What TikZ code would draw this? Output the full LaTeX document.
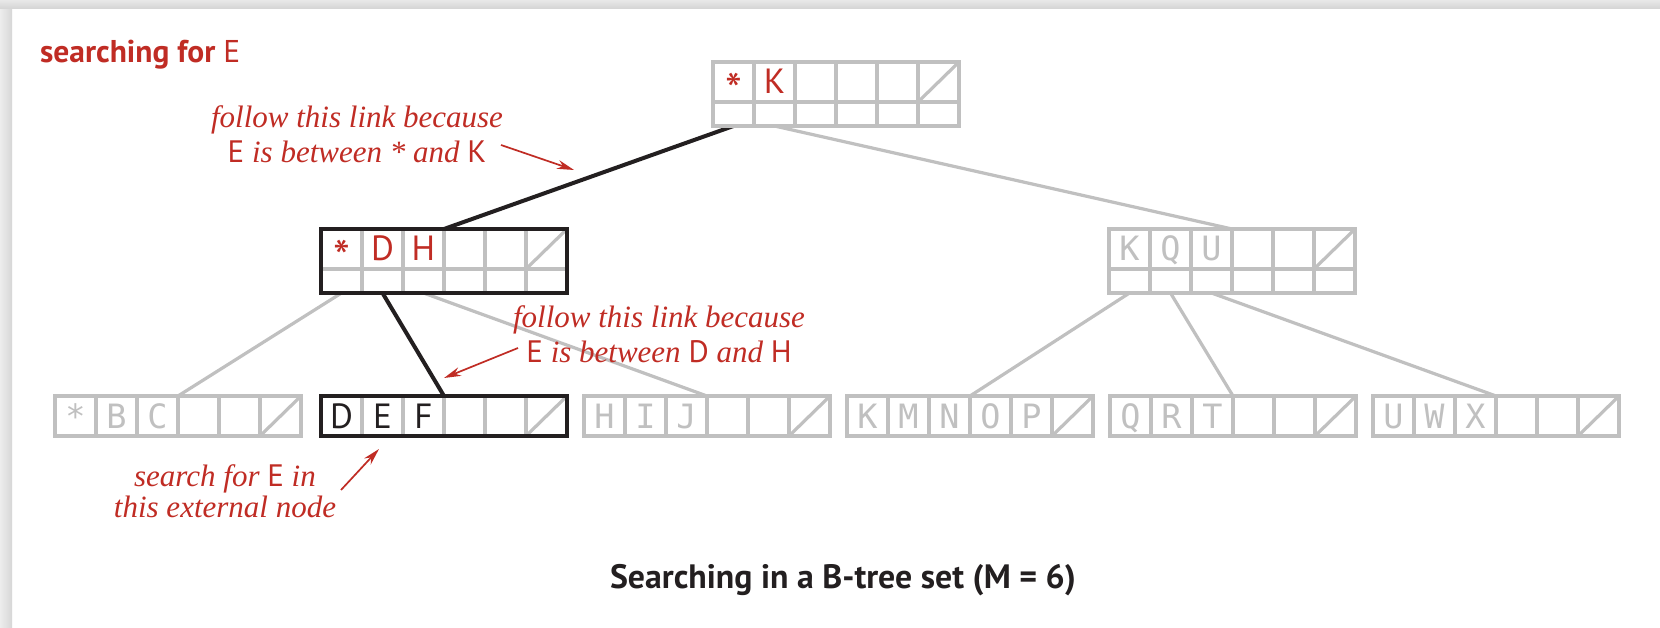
\documentclass[tikz,border=0pt]{standalone}
\usepackage{fontspec}
\newfontfamily\sansf{PT Sans}
\newfontfamily\monof{DejaVu Sans Mono}
\newfontfamily\serifit{Liberation Serif}
\usetikzlibrary{calc,arrows.meta}
\definecolor{bred}{RGB}{192,44,36}
\definecolor{lgray}{RGB}{192,192,192}
\definecolor{bblack}{RGB}{35,31,32}
\pgfdeclarelayer{bg}
\pgfsetlayers{bg,main}
\newcommand{\su}[1]{{\sansf\upshape #1}}
\tikzset{
  grayline/.style={draw=lgray, line width=3.2pt},
  blackline/.style={draw=bblack, line width=4pt},
  pagebox/.style={rectangle, fill=white, inner sep=0pt, outer sep=0pt, minimum width=246pt, anchor=north west},
  upbox/.style={pagebox, minimum height=64pt},
  lowbox/.style={pagebox, minimum height=40pt},
  redkey/.style={anchor=base, inner sep=0pt, text=bred, font=\sansf\fontsize{35}{38}\selectfont},
  redstar/.style={anchor=base, inner sep=0pt, text=bred, font=\sansf\fontsize{48}{50}\selectfont},
  blackkey/.style={anchor=base, inner sep=0pt, text=bblack, font=\sansf\fontsize{35}{38}\selectfont},
  graykey/.style={anchor=base, inner sep=0pt, text=lgray, font=\monof\fontsize{33.5}{36}\selectfont},
  note/.style={anchor=base, inner sep=0pt, text=bred, font=\serifit\itshape\fontsize{31}{34}\selectfont},
  callout/.style={draw=bred, line width=1.7pt, -{Stealth[length=17pt,width=9pt]}},
}
% upper (internal) page: name, x, y, border style
\newcommand{\upperpage}[4]{%
  \node[upbox] (#1) at (#2,#3) {};
  \foreach \k in {1,...,5}
    \draw[grayline] ($(#1.north west)+(\k*41,0)$) -- ($(#1.south west)+(\k*41,0)$);
  \draw[grayline] ($(#1.north west)+(0,40)$) -- ($(#1.north east)+(0,40)$);
  \draw[grayline] ($(#1.north west)+(205,40)$) -- (#1.north east);
  \draw[#4] (#1.north west) rectangle (#1.south east);
  \foreach \k in {1,...,6}
    \coordinate (#1-p\k) at ($(#1.south west)+(\k*41-20.5,0)$);
}
% lower (external) page
\newcommand{\lowerpage}[4]{%
  \node[lowbox] (#1) at (#2,#3) {};
  \foreach \k in {1,...,5}
    \draw[grayline] ($(#1.north west)+(\k*41,0)$) -- ($(#1.south west)+(\k*41,0)$);
  \draw[grayline] ($(#1.south west)+(205,0)$) -- (#1.north east);
  \draw[#4] (#1.north west) rectangle (#1.south east);
}
% key in a cell: page, cell index, style, text
\newcommand{\cellkey}[4]{%
  \node[#3] (#1-k#2) at ($(#1.north west)+(#2*41-20.5,32)$) {#4};
}
\newcommand{\cellstar}[1]{%
  \node[redstar] (#1-k1) at ($(#1.north west)+(20.5,46)$) {*};
}
\begin{document}
\begin{tikzpicture}[x=1pt,y=-1pt]
\useasboundingbox (0,0) rectangle (1660,628);
\begin{pgfonlayer}{bg}
\fill[white] (0,0) rectangle (1660,628);
\shade[left color=black!7, right color=black!16] (0,0) rectangle (12,628);
\shade[top color=black!9, bottom color=black!17] (0,0) rectangle (1660,9);
\end{pgfonlayer}

% pages
\upperpage{root}{713}{62}{grayline}
\upperpage{dh}{321}{229}{blackline}
\upperpage{kqu}{1109}{229}{grayline}
\lowerpage{bc}{55}{396}{grayline}
\lowerpage{def}{321}{396}{blackline}
\lowerpage{hij}{584}{396}{grayline}
\lowerpage{kmnop}{847}{396}{grayline}
\lowerpage{qrt}{1110}{396}{grayline}
\lowerpage{uwx}{1373}{396}{grayline}

% keys
\cellstar{root}
\cellkey{root}{2}{redkey}{K}
\cellstar{dh}
\cellkey{dh}{2}{redkey}{D}
\cellkey{dh}{3}{redkey}{H}
\cellkey{kqu}{1}{graykey}{K}
\cellkey{kqu}{2}{graykey}{Q}
\cellkey{kqu}{3}{graykey}{U}
\cellkey{bc}{1}{graykey}{*}
\cellkey{bc}{2}{graykey}{B}
\cellkey{bc}{3}{graykey}{C}
\cellkey{def}{1}{blackkey}{D}
\cellkey{def}{2}{blackkey}{E}
\cellkey{def}{3}{blackkey}{F}
\cellkey{hij}{1}{graykey}{H}
\cellkey{hij}{2}{graykey}{I}
\cellkey{hij}{3}{graykey}{J}
\cellkey{kmnop}{1}{graykey}{K}
\cellkey{kmnop}{2}{graykey}{M}
\cellkey{kmnop}{3}{graykey}{N}
\cellkey{kmnop}{4}{graykey}{O}
\cellkey{kmnop}{5}{graykey}{P}
\cellkey{qrt}{1}{graykey}{Q}
\cellkey{qrt}{2}{graykey}{R}
\cellkey{qrt}{3}{graykey}{T}
\cellkey{uwx}{1}{graykey}{U}
\cellkey{uwx}{2}{graykey}{W}
\cellkey{uwx}{3}{graykey}{X}

% links
\begin{pgfonlayer}{bg}
\draw[blackline] (root-p1) -- (dh.north);
\draw[grayline] (root-p2) -- (kqu.north);
\draw[grayline] (dh-p1) -- (bc.north);
\draw[blackline] (dh-p2) -- (def.north);
\draw[grayline] (dh-p3) -- (hij.north);
\draw[grayline] (kqu-p1) -- (kmnop.north);
\draw[grayline] (kqu-p2) -- (qrt.north);
\draw[grayline] (kqu-p3) -- (uwx.north);
\end{pgfonlayer}

% labels
\node[anchor=base west, inner sep=0pt, text=bred, font=\sansf\fontsize{31.5}{34}\selectfont] (head) at (40,63) {\bfseries searching for \mdseries E};

\node[note] (n1a) at (357,128) {follow this link because};
\node[note] (n1b) at (357,163) {\su{E} is between * and \su{K}};
\coordinate (a1s) at (501,145);
\coordinate (a1e) at (574,170);
\draw[callout] (a1s) -- (a1e);

\node[note] (n2a) at (659,327) {follow this link because};
\node[note] (n2b) at (659,362) {\su{E} is between \su{D} and \su{H}};
\coordinate (a2s) at (518,348);
\coordinate (a2e) at (444,378);
\draw[callout] (a2s) -- (a2e);

\node[note] (n3a) at (225,486) {search for \su{E} in};
\node[note] (n3b) at (225,517) {this external node};
\coordinate (a3s) at (341,490);
\coordinate (a3e) at (379,449);
\draw[callout] (a3s) -- (a3e);

\node[anchor=base, inner sep=0pt, text=bblack, font=\sansf\bfseries\fontsize{33.8}{37}\selectfont] (title) at (843,588) {Searching in a B-tree set (M = 6)};
\end{tikzpicture}
\end{document}
